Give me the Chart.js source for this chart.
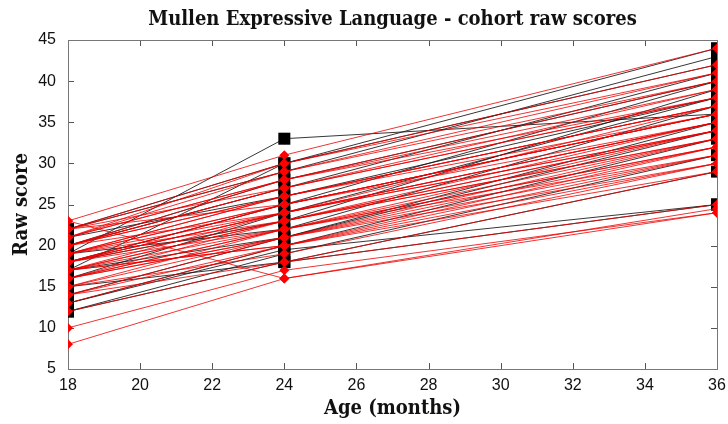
<!DOCTYPE html>
<html>
<head>
<meta charset="utf-8">
<script src="https://cdn.jsdelivr.net/npm/chart.js@4/dist/chart.umd.min.js"></script>
<style>
  html, body { margin: 0; padding: 0; background: #fff; }
  #wrap { width: 728px; height: 424px; }
</style>
</head>
<body>
<div id="wrap"><canvas id="myChart" width="728" height="424"></canvas></div>
<script>
// visit ages (months)
const ages = [18, 24, 36]

// subjects drawn in black (square markers): score at 18, 24, 36 months
const blackAt18 = [19, 17, 22, 20, 18, 16, 19, 14, 13, 12, 18, 15, 21, 12, 17, 20, 13, 22]
const blackAt24 = [33, 30, 29, 27, 25, 24, 22, 21, 20, 19, 23, 18, 26, 18, 21, 28, 19.5, 30]
const blackAt36 = [36, 44, 43, 41, 40, 38, 37, 35, 33, 31, 39, 29, 38, 25, 34, 40, 25, 42]

// subjects drawn in red (diamond markers)
const redAt18 = [23, 22, 22, 21, 21, 20, 20, 20, 19, 19, 19, 18, 18, 18, 18, 17, 17, 17, 16, 16, 16, 15, 15, 14, 14, 13, 12, 10, 8, 23, 21, 20, 19, 18, 17, 16, 22, 19, 18, 17, 15, 20, 21, 14, 16, 19, 18, 20, 17, 22]
const redAt24 = [31, 30, 29, 29, 28, 28, 27, 27, 26, 26, 25, 25, 25, 24, 24, 24, 23, 23, 23, 22, 22, 22, 21, 21, 20, 20, 18, 17, 16, 16, 28, 26, 24, 23, 22, 21, 27, 25, 24, 20, 19, 26, 30, 18, 21, 23, 22, 24, 20, 25]
const redAt36 = [44, 42, 41, 40, 40, 39, 38, 38, 37, 37, 36, 36, 35, 35, 34, 34, 34, 33, 33, 32, 32, 31, 31, 30, 30, 29, 25, 24, 24, 24.5, 38, 36, 35, 34, 33, 32, 39, 36, 35, 31, 30, 37, 41, 29, 33, 35, 34, 37, 32, 36]

const chartTitle = 'Mullen Expressive Language - cohort raw scores'

const narrow = '"Liberation Sans Narrow", "Liberation Sans", Arial, sans-serif'
const serif = '"DejaVu Serif Condensed", "DejaVu Serif", "Liberation Serif", serif'

const subject = (a, b, c) => [a, b, c].map((v, i) => ({ x: ages[i], y: v }))

const blackSets = blackAt18.map((v, i) => ({
    data: subject(v, blackAt24[i], blackAt36[i]),
    borderColor: 'rgba(20,20,20,0.85)',
    borderWidth: 1,
    pointStyle: 'rect',
    pointRadius: 8.5,
    pointBackgroundColor: '#000',
    pointBorderWidth: 0,
    order: 1,
    clip: 0
}))

const redSets = redAt18.map((v, i) => ({
    data: subject(v, redAt24[i], redAt36[i]),
    borderColor: 'rgba(235,0,0,0.8)',
    borderWidth: 1,
    pointStyle: 'rectRot',
    pointRadius: 5,
    pointBackgroundColor: '#ff0000',
    pointBorderWidth: 0,
    order: 0,
    clip: 0
}))

// gnuplot style frame with inward ticks on all four sides
const frameTicks = {
    id: 'frameTicks',
    beforeDatasetsDraw(chart) {
        const { ctx, chartArea: a, scales } = chart
        ctx.save()
        ctx.strokeStyle = '#555'
        ctx.lineWidth = 1
        ctx.beginPath()
        scales.x.ticks.forEach(t => {
            const px = Math.round(scales.x.getPixelForValue(t.value)) + 0.5
            ctx.moveTo(px, a.bottom); ctx.lineTo(px, a.bottom - 6)
            ctx.moveTo(px, a.top); ctx.lineTo(px, a.top + 6)
        })
        scales.y.ticks.forEach(t => {
            const py = Math.round(scales.y.getPixelForValue(t.value)) + 0.5
            ctx.moveTo(a.left, py); ctx.lineTo(a.left + 6, py)
            ctx.moveTo(a.right, py); ctx.lineTo(a.right - 6, py)
        })
        ctx.stroke()
        ctx.strokeStyle = '#777'
        ctx.strokeRect(Math.round(a.left) + 0.5, Math.round(a.top) + 0.5,
            Math.round(a.right - a.left), Math.round(a.bottom - a.top))
        ctx.restore()
    }
}

const chartRef = document.getElementById('myChart').getContext('2d')
new Chart(chartRef, {
    type: 'line',
    data: { datasets: [...redSets, ...blackSets] },
    plugins: [frameTicks],
    options: {
        responsive: false,
        animation: false,
        layout: { padding: { left: 0, right: 11, top: 0, bottom: 0 } },
        plugins: {
            legend: { display: false },
            tooltip: { enabled: false }
        },
        scales: {
            x: {
                type: 'linear',
                min: 18,
                max: 36,
                afterFit: s => { s.height = 55; s.paddingRight = 0; s.paddingLeft = 0 },
                grid: { display: false, drawTicks: false },
                border: { display: false },
                ticks: {
                    stepSize: 2,
                    padding: 7,
                    color: '#111',
                    maxRotation: 0,
                    font: { family: narrow, size: 16 }
                },
                title: {
                    display: true,
                    text: 'Age (months)',
                    color: '#111',
                    font: { family: serif, size: 20, weight: 'bold' },
                    padding: { top: 0, bottom: 3 }
                }
            },
            // top axis only carries the title, centred over the plot like gnuplot
            xTop: {
                type: 'linear',
                position: 'top',
                min: 18,
                max: 36,
                afterFit: s => { s.height = 40; s.paddingRight = 0; s.paddingLeft = 0 },
                grid: { display: false, drawTicks: false },
                border: { display: false },
                ticks: { display: false },
                title: {
                    display: true,
                    text: chartTitle,
                    color: '#111',
                    font: { family: serif, size: 20, weight: 'bold' },
                    padding: { top: 8, bottom: 0 }
                }
            },
            y: {
                min: 5,
                max: 45,
                afterFit: s => { s.width = 68 },
                grid: { display: false, drawTicks: false },
                border: { display: false },
                ticks: {
                    stepSize: 5,
                    padding: 12,
                    color: '#111',
                    font: { family: narrow, size: 16 }
                },
                title: {
                    display: true,
                    text: 'Raw score',
                    color: '#111',
                    font: { family: serif, size: 20, weight: 'bold' },
                    padding: { top: 10, bottom: 0 }
                }
            }
        }
    }
})
</script>
</body>
</html>
